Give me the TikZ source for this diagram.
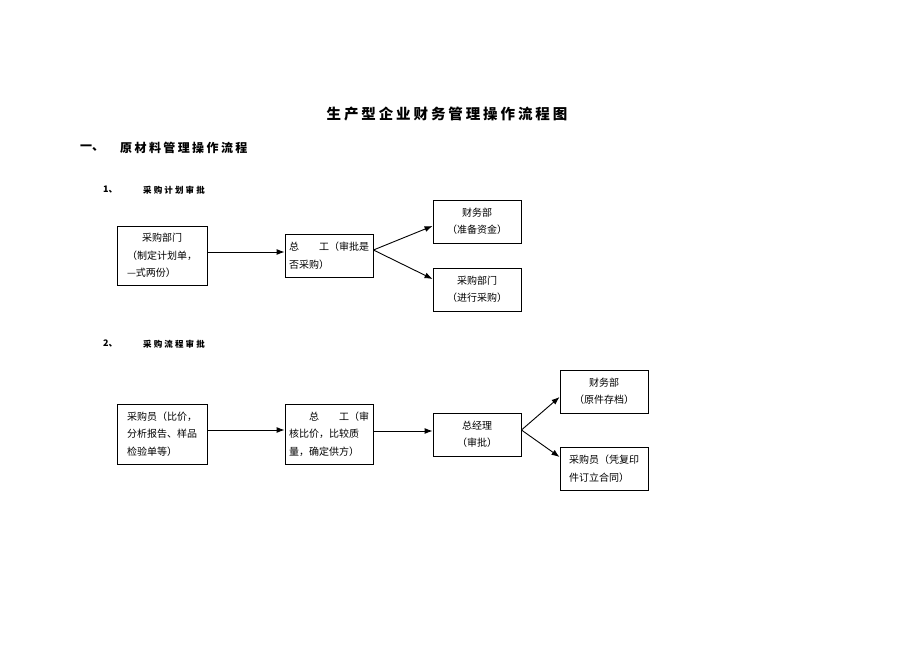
\documentclass[tikz,border=0pt]{standalone}
\usepackage{fontspec}
\setmainfont{Noto Sans CJK SC}
\usetikzlibrary{arrows.meta,positioning}
\begin{document}
\begin{tikzpicture}[x=1pt,y=1pt,
  box/.style={draw,line width=0.9pt,minimum width=88pt,minimum height=43pt,inner sep=3pt,
    font=\fontsize{10}{17.5}\selectfont},
  tall/.style={minimum height=59pt},
  conn/.style={line width=0.9pt,-{Latex[length=8pt,width=6pt]}},
  hd/.style={anchor=west,inner sep=0pt}
]
\useasboundingbox (0,0) rectangle (920,651);
% headings
\node (title) at (447,537) {\fontsize{14.5}{16}\selectfont\bfseries\addfontfeatures{LetterSpace=20}生产型企业财务管理操作流程图};
\node[hd] (s1n) at (80,503) {\fontsize{12}{14}\selectfont\bfseries 一、};
\node[hd] (s1) at (120,503) {\fontsize{12}{14}\selectfont\bfseries\addfontfeatures{LetterSpace=20}原材料管理操作流程};
\node[hd] (p1n) at (103,461) {\fontsize{9}{11}\selectfont\bfseries 1、};
\node[hd] (p1) at (143,461) {\fontsize{8.5}{11}\selectfont\bfseries\addfontfeatures{LetterSpace=25}采购计划审批};
\node[hd] (p2n) at (103,307) {\fontsize{9}{11}\selectfont\bfseries 2、};
\node[hd] (p2) at (143,307) {\fontsize{8.5}{11}\selectfont\bfseries\addfontfeatures{LetterSpace=25}采购流程审批};
% section 1
\node[box,tall,minimum width=90pt,align=left] (A) at (162,395.5) {\hspace{1.5em}采购部门\\（制定计划单，\\—式两份）};
\node[box,align=left] (B) at (329,395.5) {总\hspace{2em}工（审批是\\否采购）};
\node[box,align=center] (C) at (477,429.5) {财务部\\（准备资金）};
\node[box,align=center] (D) at (477,361.5) {采购部门\\（进行采购）};
\draw[conn] ([yshift=3.5pt]A.east) -- ([yshift=3.5pt]B.west);
\draw[conn] ([yshift=5.5pt]B.east) -- ([yshift=-4.5pt]C.west);
\draw[conn] ([yshift=5.5pt]B.east) -- ([yshift=10.5pt]D.west);
% section 2
\node[box,tall,minimum width=90pt,minimum height=60pt,align=left] (E) at (162,217) {采购员（比价，\\分析报告、样品\\检验单等）};
\node[box,tall,minimum height=60pt,align=left] (F) at (329,217) {\hspace{2em}总\hspace{2em}工（审\\核比价，比较质\\量，确定供方）};
\node[box,align=center] (G) at (477,216.5) {总经理\\（审批）};
\node[box,align=center] (H) at (604,259.5) {财务部\\（原件存档）};
\node[box,align=left] (I) at (604,182.5) {采购员（凭复印\\件订立合同）};
\draw[conn] ([yshift=4pt]E.east) -- ([yshift=4pt]F.west);
\draw[conn] ([yshift=3pt]F.east) -- ([yshift=3.5pt]G.west);
\draw[conn] ([yshift=4.5pt]G.east) -- ([yshift=-5.5pt]H.west);
\draw[conn] ([yshift=4.5pt]G.east) -- ([yshift=11.5pt]I.west);
\end{tikzpicture}
\end{document}
